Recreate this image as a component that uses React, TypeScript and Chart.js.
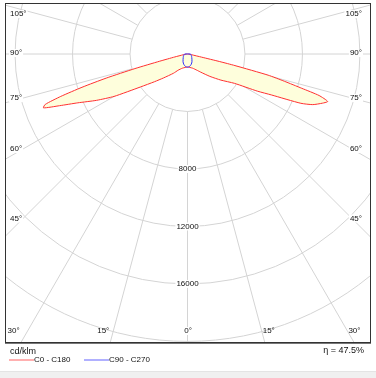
import React, { useEffect, useRef } from 'react';
import { Chart, registerables } from 'chart.js';

Chart.register(...registerables);

// ---- Data (luminous intensity, cd/klm, by gamma angle from nadir) ----
const leftAngles = [0, 10, 20, 30, 36, 45, 50, 55, 60, 63, 66, 68, 69.5, 70.5, 71.5, 72.5, 73.5, 74.5, 75.5, 77, 80, 85, 90];
const leftValues = [900, 950, 1050, 1300, 1650, 2350, 3000, 4000, 5900, 7100, 8350, 9600, 10700, 10500, 9300, 7700, 5900, 3800, 2000, 900, 300, 100, 0];

const rightAngles = [0, 10, 20, 30, 36, 45, 52, 58, 62, 64, 66.5, 68, 70, 71.3, 72.5, 73.3, 74.3, 75.3, 76.3, 76.8, 77.5, 80, 85, 90];
const rightValues = [900, 950, 1050, 1300, 1560, 2200, 2950, 3850, 5500, 6500, 8600, 9400, 10000, 10300, 9600, 8300, 7000, 5800, 3400, 2300, 1000, 300, 80, 0];

const c90Angles = [0, 10, 20, 30, 40, 50, 60, 70, 80, 90];
const c90Values = [920, 870, 760, 620, 480, 390, 330, 280, 240, 200];

const seriesNames = ['C0 - C180', 'C90 - C270'];

const gridRadii = [4000, 8000, 12000, 16000, 20000, 24000, 28000];
const labelledRadii = [8000, 12000, 16000];
const spokeAngles = [0, 15, 30, 45, 60, 75, 90, 105, 120, 135, 150, 165, 180, 195, 210, 225, 240, 255, 270, 285, 300, 315, 330, 345];
const sideLabelAngles = [45, 60, 75, 90, 105];
const bottomLabelAngles = [0, 15, 30];
const unitLabel = 'cd/klm';
const efficiencyLabel = 'η = 47.5%';

const X_MIN = -12700, X_MAX = 12700, Y_MIN = -20040, Y_MAX = 3550;

const FONT = '8px "Liberation Sans", Arial, sans-serif';
const FOOT_FONT = '9px "Liberation Sans", Arial, sans-serif';

function toXY(angles: number[], values: number[], side: number) {
  return angles.map((a, i) => {
    const t = (a * Math.PI) / 180;
    return { x: side * values[i] * Math.sin(t), y: -values[i] * Math.cos(t) };
  });
}

const polarGrid = {
  id: 'polarGrid',
  beforeDatasetsDraw(chart: any) {
    const { ctx, chartArea: a, scales } = chart;
    const xs = scales.x, ys = scales.y;
    const cx = xs.getPixelForValue(0), cy = ys.getPixelForValue(0);
    const rp = (v: number) => xs.getPixelForValue(v) - cx;
    ctx.save();
    ctx.beginPath();
    ctx.rect(a.left, a.top, a.right - a.left, a.bottom - a.top);
    ctx.clip();
    ctx.strokeStyle = '#d4d4d4';
    ctx.lineWidth = 1;
    for (const r of gridRadii) {
      ctx.beginPath();
      ctx.arc(cx, cy, rp(r), 0, Math.PI * 2);
      ctx.stroke();
    }
    const r0 = rp(gridRadii[0]);
    const r1 = rp(60000);
    for (const th of spokeAngles) {
      const t = (th * Math.PI) / 180;
      const dx = Math.sin(t), dy = Math.cos(t);
      ctx.beginPath();
      ctx.moveTo(cx + dx * r0, cy + dy * r0);
      ctx.lineTo(cx + dx * r1, cy + dy * r1);
      ctx.stroke();
    }
    ctx.font = FONT;
    ctx.textBaseline = 'middle';
    // radius labels
    ctx.textAlign = 'center';
    for (const v of labelledRadii) {
      const y = ys.getPixelForValue(-v);
      const s = String(v);
      const w = ctx.measureText(s).width;
      ctx.fillStyle = '#ffffff';
      ctx.fillRect(cx - w / 2 - 1, y - 4, w + 2, 8);
      ctx.fillStyle = '#111';
      ctx.fillText(s, cx, y);
    }
    // side angle labels
    const halfW = (a.right - a.left) / 2;
    for (const th of sideLabelAngles) {
      const t = (th * Math.PI) / 180;
      let y = cy + (halfW - 18) * Math.cos(t) / Math.sin(t);
      if (th === 90) y = cy - 1;
      y = Math.max(y, a.top + 11);
      const s = th + '°';
      const w = ctx.measureText(s).width;
      ctx.fillStyle = '#ffffff';
      ctx.fillRect(a.left + 4, y - 4, w + 2, 8);
      ctx.fillRect(a.right - 9 - w, y - 4, w + 2, 8);
      ctx.fillStyle = '#111';
      ctx.textAlign = 'left';
      ctx.fillText(s, a.left + 5, y);
      ctx.textAlign = 'right';
      ctx.fillText(s, a.right - 8, y);
    }
    // bottom angle labels
    const yb = a.bottom - 11;
    for (const th of bottomLabelAngles) {
      const s = th + '°';
      const w = ctx.measureText(s).width;
      if (th === 0) {
        ctx.fillStyle = '#ffffff';
        ctx.fillRect(cx - w / 2 - 1, yb - 4, w + 2, 8);
        ctx.fillStyle = '#111';
        ctx.textAlign = 'center';
        ctx.fillText(s, cx + 0.5, yb);
        continue;
      }
      const t = (th * Math.PI) / 180;
      const d = (yb - cy) * Math.tan(t);
      const lx = cx - d - 4 * (th / 15);
      const rx = cx + d + 1;
      ctx.fillStyle = '#111';
      ctx.textAlign = 'right';
      ctx.fillText(s, lx, yb);
      ctx.textAlign = 'left';
      ctx.fillText(s, rx, yb);
    }
    ctx.restore();
  },
  afterDraw(chart: any) {
    const { ctx, chartArea: a, width, height } = chart;
    ctx.save();
    // frame
    ctx.strokeStyle = '#333';
    ctx.lineWidth = 1;
    ctx.strokeRect(a.left + 0.5, a.top + 0.5, a.right - a.left, a.bottom - a.top);
    ctx.beginPath();
    ctx.moveTo(a.left, a.bottom + 1.5);
    ctx.lineTo(a.right + 1, a.bottom + 1.5);
    ctx.strokeStyle = '#777';
    ctx.stroke();
    // footer band
    ctx.fillStyle = '#f0f0f0';
    ctx.fillRect(0, height - 6, width, 6);
    ctx.fillStyle = '#e4e4e4';
    ctx.fillRect(0, height - 7, width, 1);
    // unit + efficiency
    ctx.fillStyle = '#111';
    ctx.font = FOOT_FONT;
    ctx.textBaseline = 'middle';
    ctx.textAlign = 'left';
    ctx.fillText(unitLabel, a.left + 5, a.bottom + 10);
    ctx.textAlign = 'right';
    ctx.fillText(efficiencyLabel, a.right - 6, a.bottom + 9);
    // legend
    ctx.font = FONT;
    ctx.textAlign = 'left';
    const legendColors = ['#ffb0b0', '#b0b0ff'];
    const starts = [a.left + 4, a.left + 79];
    chart.data.datasets.forEach((ds: any, i: number) => {
      const x0 = starts[i];
      const y0 = a.bottom + 17;
      ctx.fillStyle = legendColors[i];
      ctx.fillRect(x0, y0, 25, 2);
      ctx.fillStyle = '#111';
      ctx.fillText(ds.label, x0 + 25, y0 + 1);
    });
    ctx.restore();
  },
};

export default function App() {
  const ref = useRef<HTMLCanvasElement | null>(null);
  useEffect(() => {
    if (!ref.current) return;
    const redPath = [
      ...toXY(leftAngles, leftValues, -1).reverse(),
      ...toXY(rightAngles, rightValues, 1).slice(1),
    ];
    const bluePath = [
      ...toXY(c90Angles, c90Values, -1).reverse(),
      ...toXY(c90Angles, c90Values, 1).slice(1),
    ];
    bluePath.push(bluePath[0]);
    const chart = new Chart(ref.current, {
      type: 'scatter',
      data: {
        datasets: [
          {
            label: seriesNames[0],
            data: redPath,
            showLine: true,
            borderColor: '#ff3030',
            borderWidth: 1,
            backgroundColor: '#fefedc',
            fill: 'shape',
            pointRadius: 0,
            tension: 0.2,
            order: 2,
          } as any,
          {
            label: seriesNames[1],
            data: bluePath,
            showLine: true,
            borderColor: '#3030ff',
            borderWidth: 1,
            backgroundColor: 'transparent',
            fill: false,
            pointRadius: 0,
            tension: 0.3,
            order: 1,
          } as any,
        ],
      },
      options: {
        responsive: false,
        devicePixelRatio: 1,
        animation: false,
        layout: { padding: { left: 5, top: 3, right: 6, bottom: 36 } },
        scales: {
          x: { type: 'linear', min: X_MIN, max: X_MAX, display: false },
          y: { type: 'linear', min: Y_MIN, max: Y_MAX, display: false },
        },
        plugins: { legend: { display: false }, tooltip: { enabled: false } },
      },
      plugins: [polarGrid],
    });
    return () => chart.destroy();
  }, []);
  return (
    <div style={{ position: 'fixed', left: 0, top: 0, width: 376, height: 378, background: '#fff' }}>
      <canvas ref={ref} width={376} height={378} style={{ width: 376, height: 378, display: 'block' }} />
    </div>
  );
}
